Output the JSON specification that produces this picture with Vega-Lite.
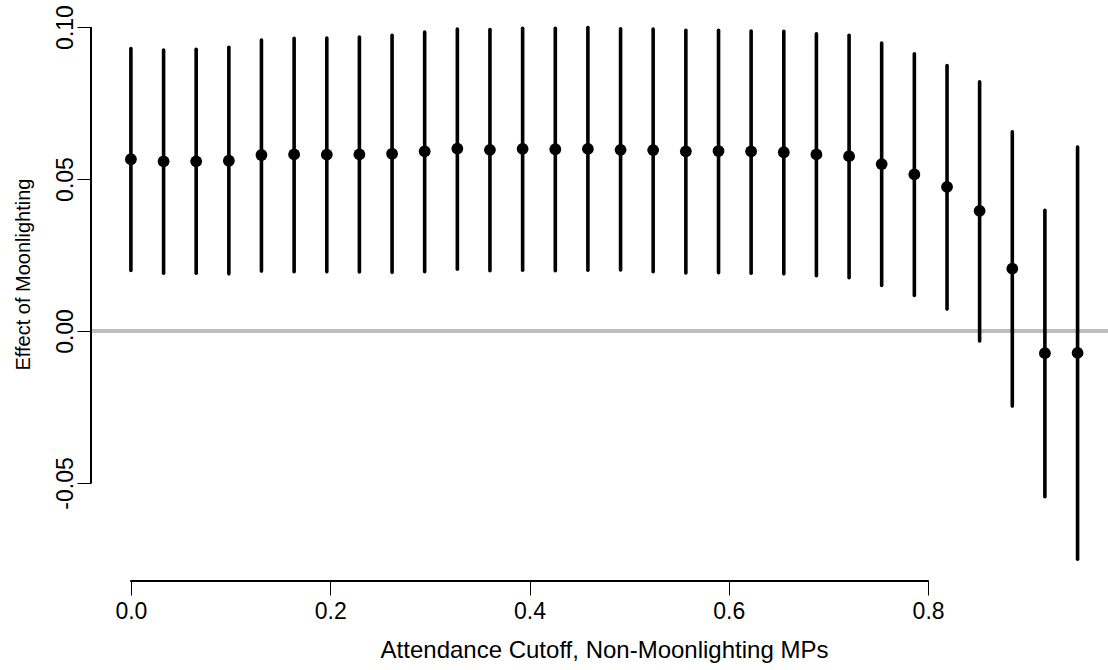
{
  "$schema": "https://vega.github.io/schema/vega-lite/v6.json",
  "autosize": {"type": "none"},
  "width": 1017,
  "height": 575,
  "padding": {"left": 91, "top": 6, "right": 0, "bottom": 89},
  "background": "white",
  "config": {
    "view": {"stroke": null},
    "font": "Liberation Sans",
    "axis": {
      "grid": false,
      "domain": false,
      "ticks": true,
      "tickSize": 14,
      "tickWidth": 1,
      "tickColor": "black",
      "labelFont": "Liberation Sans",
      "labelFontSize": 23,
      "labelColor": "black",
      "titleFont": "Liberation Sans",
      "titleFontWeight": "normal",
      "titleColor": "black"
    }
  },
  "data": {
    "values": [
      {"cutoff": 0.0000, "est": 0.0565, "lo": 0.0199, "hi": 0.0929},
      {"cutoff": 0.0328, "est": 0.0558, "lo": 0.0190, "hi": 0.0924},
      {"cutoff": 0.0655, "est": 0.0558, "lo": 0.0190, "hi": 0.0927},
      {"cutoff": 0.0983, "est": 0.0560, "lo": 0.0188, "hi": 0.0933},
      {"cutoff": 0.1310, "est": 0.0579, "lo": 0.0197, "hi": 0.0957},
      {"cutoff": 0.1638, "est": 0.0581, "lo": 0.0195, "hi": 0.0963},
      {"cutoff": 0.1966, "est": 0.0580, "lo": 0.0195, "hi": 0.0964},
      {"cutoff": 0.2293, "est": 0.0581, "lo": 0.0194, "hi": 0.0967},
      {"cutoff": 0.2621, "est": 0.0583, "lo": 0.0193, "hi": 0.0973},
      {"cutoff": 0.2948, "est": 0.0591, "lo": 0.0195, "hi": 0.0983},
      {"cutoff": 0.3276, "est": 0.0600, "lo": 0.0203, "hi": 0.0993},
      {"cutoff": 0.3603, "est": 0.0596, "lo": 0.0198, "hi": 0.0992},
      {"cutoff": 0.3931, "est": 0.0599, "lo": 0.0200, "hi": 0.0996},
      {"cutoff": 0.4259, "est": 0.0598, "lo": 0.0198, "hi": 0.0996},
      {"cutoff": 0.4586, "est": 0.0599, "lo": 0.0200, "hi": 0.0998},
      {"cutoff": 0.4914, "est": 0.0596, "lo": 0.0201, "hi": 0.0994},
      {"cutoff": 0.5241, "est": 0.0595, "lo": 0.0195, "hi": 0.0993},
      {"cutoff": 0.5569, "est": 0.0591, "lo": 0.0191, "hi": 0.0989},
      {"cutoff": 0.5897, "est": 0.0592, "lo": 0.0192, "hi": 0.0989},
      {"cutoff": 0.6224, "est": 0.0591, "lo": 0.0190, "hi": 0.0987},
      {"cutoff": 0.6552, "est": 0.0588, "lo": 0.0188, "hi": 0.0986},
      {"cutoff": 0.6879, "est": 0.0581, "lo": 0.0182, "hi": 0.0978},
      {"cutoff": 0.7207, "est": 0.0575, "lo": 0.0175, "hi": 0.0973},
      {"cutoff": 0.7534, "est": 0.0549, "lo": 0.0150, "hi": 0.0947},
      {"cutoff": 0.7862, "est": 0.0515, "lo": 0.0117, "hi": 0.0912},
      {"cutoff": 0.8190, "est": 0.0474, "lo": 0.0072, "hi": 0.0873},
      {"cutoff": 0.8517, "est": 0.0395, "lo": -0.0033, "hi": 0.0820},
      {"cutoff": 0.8845, "est": 0.0205, "lo": -0.0247, "hi": 0.0655},
      {"cutoff": 0.9172, "est": -0.0073, "lo": -0.0545, "hi": 0.0397},
      {"cutoff": 0.9500, "est": -0.0072, "lo": -0.0751, "hi": 0.0605}
    ]
  },
  "encoding": {
    "x": {
      "field": "cutoff",
      "type": "quantitative",
      "scale": {"domain": [-0.04004, 0.98053], "nice": false, "zero": false},
      "axis": {
        "values": [0, 0.2, 0.4, 0.6, 0.8],
        "format": ".1f",
        "labelBaseline": "alphabetic",
        "labelPadding": 23,
        "title": "Attendance Cutoff, Non-Moonlighting MPs",
        "titleFontSize": 24,
        "titleBaseline": "alphabetic",
        "titleAnchor": "start",
        "titleAlign": "center",
        "titleX": 513,
        "titleY": 76
      }
    },
    "y": {
      "field": "est",
      "type": "quantitative",
      "scale": {"domain": [-0.08224, 0.10691], "nice": false, "zero": false},
      "axis": {
        "values": [-0.05, 0, 0.05, 0.1],
        "format": ".2f",
        "labelExpr": "replace(datum.label, '\u2212', '-')",
        "labelAngle": 270,
        "labelAlign": "center",
        "labelBaseline": "alphabetic",
        "labelPadding": 5,
        "title": "Effect of Moonlighting",
        "titleFontSize": 20,
        "titleAngle": 270,
        "titleAlign": "center",
        "titleBaseline": "alphabetic",
        "titleAnchor": "start",
        "titleX": -62,
        "titleY": 268
      }
    }
  },
  "layer": [
    {
      "mark": {"type": "rule", "color": "#bebebe", "strokeWidth": 4},
      "encoding": {"x": null, "y": {"datum": 0}}
    },
    {
      "mark": {"type": "rule", "color": "black", "strokeWidth": 1},
      "encoding": {"x": {"datum": -0.04004}, "y": {"datum": -0.05}, "y2": {"datum": 0.1}}
    },
    {
      "mark": {"type": "rule", "color": "black", "strokeWidth": 1},
      "encoding": {"y": {"datum": -0.08224}, "x": {"datum": 0}, "x2": {"datum": 0.8}}
    },
    {
      "mark": {"type": "rule", "color": "black", "strokeWidth": 3.6, "strokeCap": "round"},
      "encoding": {"y": {"field": "lo", "type": "quantitative"}, "y2": {"field": "hi"}}
    },
    {
      "mark": {"type": "point", "filled": true, "color": "black", "opacity": 1, "size": 139, "strokeWidth": 0}
    }
  ]
}
